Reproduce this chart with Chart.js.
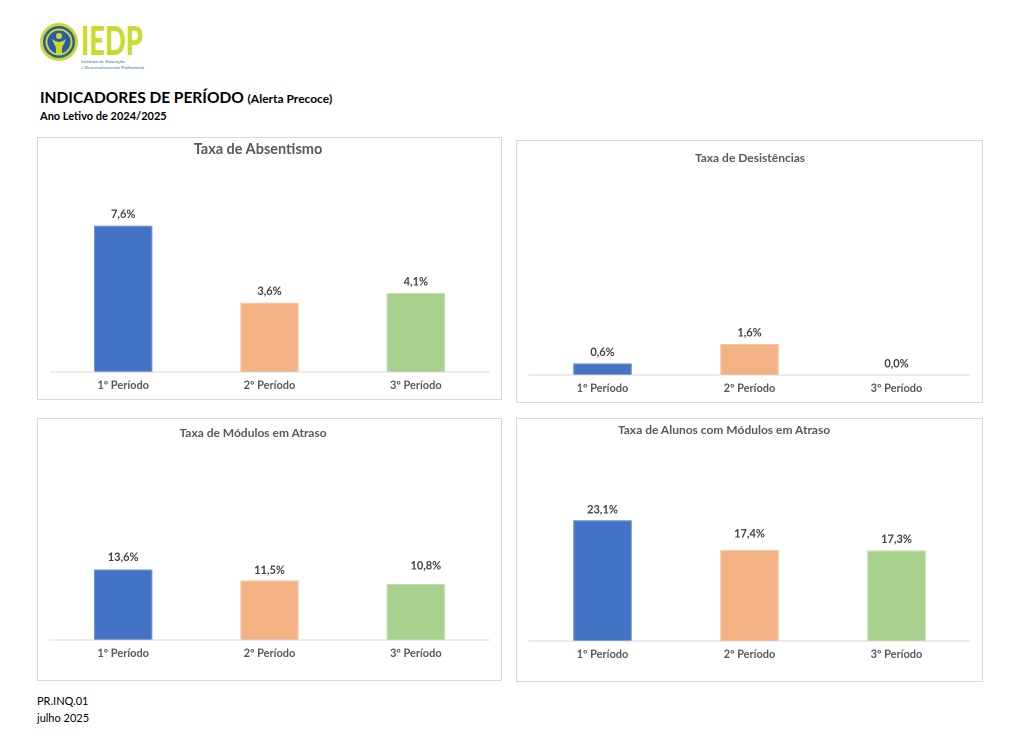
<!DOCTYPE html>
<html lang="pt">
<head>
<meta charset="utf-8">
<title>Indicadores de Período</title>
<script src="https://cdn.jsdelivr.net/npm/chart.js@4/dist/chart.umd.min.js"></script>
<style>
  html, body { margin: 0; padding: 0; background: #fff; }
  body { width: 1024px; height: 740px; position: relative; overflow: hidden; font-family: Lato, "Open Sans", sans-serif; color: #000; }
  .logo { position: absolute; left: 38px; top: 21px; }
  .head1 { position: absolute; left: 40px; top: 88px; font-weight: bold; font-size: 15.5px; }
  .head1 small { font-size: 12px; }
  .head2 { position: absolute; left: 40px; top: 109px; font-weight: bold; font-size: 11px; }
  .panel { position: absolute; border: 1px solid #d9d9d9; box-sizing: border-box; }
  .panel canvas { position: absolute; left: 0; top: 0; }
  .ctitle { position: absolute; width: 400px; text-align: center; font-weight: bold; color: #595959; line-height: 20px; white-space: nowrap; }
  .foot { position: absolute; left: 37px; font-size: 11px; }
</style>
</head>
<body>

<svg class="logo" width="120" height="52" viewBox="0 0 120 52">
  <circle cx="21" cy="21" r="19" fill="#c9da2b"/>
  <circle cx="21" cy="21" r="16" fill="#2a5aa8"/>
  <circle cx="21" cy="21" r="12.5" fill="none" stroke="#c9da2b" stroke-width="2"/>
  <circle cx="21" cy="15" r="3" fill="#c9da2b"/>
  <path d="M14 18 Q21 24 28 18 L26 23 Q24 25 24 28 L24 33 L18 33 L18 28 Q18 25 16 23 Z" fill="#c9da2b"/>
  <text x="43" y="34" font-family="Lato, sans-serif" font-weight="900" font-size="40" fill="#c9da2b" textLength="62" lengthAdjust="spacingAndGlyphs">IEDP</text>
  <text x="43" y="42" font-family="Lato, sans-serif" font-size="4.6" fill="#3a6fb0">Instituto de Educação</text>
  <text x="43" y="47.5" font-family="Lato, sans-serif" font-size="4.6" fill="#3a6fb0">e Desenvolvimento Profissional</text>
</svg>

<div class="head1">INDICADORES DE PERÍODO <small>(Alerta Precoce)</small></div>
<div class="head2">Ano Letivo de 2024/2025</div>

<div class="panel" style="left:37px;top:137px;width:465px;height:263px"><canvas id="c1"></canvas></div>
<div class="panel" style="left:516px;top:140px;width:467px;height:263px"><canvas id="c2"></canvas></div>
<div class="panel" style="left:37px;top:418px;width:465px;height:263px"><canvas id="c3"></canvas></div>
<div class="panel" style="left:516px;top:418px;width:467px;height:264px"><canvas id="c4"></canvas></div>

<div class="ctitle" style="left:58px;top:139px;font-size:14.5px">Taxa de Absentismo</div>
<div class="ctitle" style="left:550px;top:148px;font-size:12px">Taxa de Desistências</div>
<div class="ctitle" style="left:53px;top:423px;font-size:12px">Taxa de Módulos em Atraso</div>
<div class="ctitle" style="left:524px;top:420px;font-size:12px">Taxa de Alunos com Módulos em Atraso</div>

<div class="foot" style="top:694px">PR.INQ.01</div>
<div class="foot" style="top:711px">julho 2025</div>

<script>
const periods = ['1º Período', '2º Período', '3º Período'];
const absentismo = [7.6, 3.6, 4.1];
const desistencias = [0.6, 1.6, 0.0];
const modulosAtraso = [13.6, 11.5, 10.8];
const alunosModulosAtraso = [23.1, 17.4, 17.3];

const barColors = ['#4472C4', '#F4B183', '#A9D18E'];
const borderColors = ['#6f93d3', '#f8c9a6', '#c2e0ad'];
const fontFamily = 'Lato, "Open Sans", sans-serif';

// value labels on top of the bars, written the Portuguese way (7,6%)
const valueLabels = {
    id: 'valueLabels',
    afterDatasetsDraw(chart, args, opts) {
        const { ctx } = chart;
        const ds = chart.data.datasets[0];
        const meta = chart.getDatasetMeta(0);
        ctx.save();
        ctx.font = 'bold 11px ' + fontFamily;
        ctx.fillStyle = '#404040';
        ctx.textAlign = 'center';
        ctx.textBaseline = 'middle';
        meta.data.forEach((bar, i) => {
            const txt = ds.data[i].toFixed(1).replace('.', ',') + '%';
            const lift = opts.lift ? opts.lift[i] : 11;
            const shift = opts.shift ? opts.shift[i] : 0;
            ctx.fillText(txt, bar.x + shift, bar.y - lift);
        });
        ctx.restore();
    }
};

function makeChart(id, values, opt) {
    const canvas = document.getElementById(id);
    const box = canvas.parentElement;
    canvas.style.width = box.clientWidth + 'px';
    canvas.style.height = box.clientHeight + 'px';
    new Chart(canvas, {
        type: 'bar',
        data: {
            labels: periods,
            datasets: [{
                data: values,
                backgroundColor: barColors,
                borderColor: borderColors,
                borderWidth: 1,
                barPercentage: 0.4,
                categoryPercentage: 1,
            }],
        },
        options: {
            responsive: false,
            animation: false,
            devicePixelRatio: 2,
            layout: { padding: { left: 12, right: 12, top: 30, bottom: opt.bottom } },
            scales: {
                x: {
                    grid: { display: false, drawTicks: false },
                    border: { display: true, color: '#d9d9d9', width: 1 },
                    ticks: { color: '#595959', padding: 7, font: { family: fontFamily, size: 11, weight: 'bold' } },
                },
                y: { display: false, min: 0, max: opt.max },
            },
            plugins: {
                legend: { display: false },
                tooltip: { enabled: false },
                title: { display: false },
                valueLabels: { lift: opt.lift, shift: opt.shift },
            },
        },
        plugins: [valueLabels],
    });
}

makeChart('c1', absentismo, { max: 10.6, bottom: 0 });
makeChart('c2', desistencias, { max: 10.6, bottom: 0 });
makeChart('c3', modulosAtraso, { max: 36.9, bottom: 13, lift: [12, 10, 18], shift: [0, 0, 10] });
makeChart('c4', alunosModulosAtraso, { max: 36.7, bottom: 13, lift: [10, 16, 11] });
</script>
</body>
</html>
